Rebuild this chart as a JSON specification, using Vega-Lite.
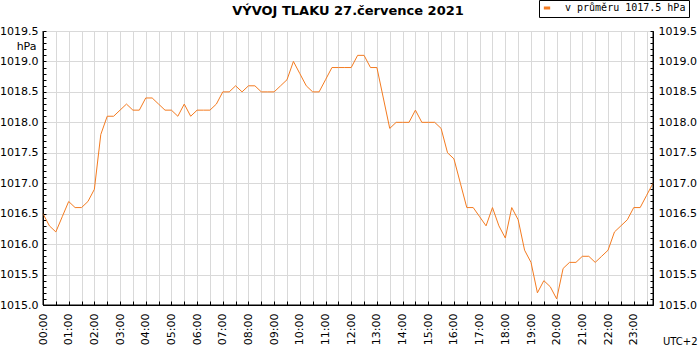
{
  "$schema": "https://vega.github.io/schema/vega-lite/v6.json",
  "width": 610,
  "height": 274,
  "autosize": "none",
  "padding": {"left": 43, "top": 31, "right": 47, "bottom": 45},
  "background": "white",
  "title": {
    "text": "VÝVOJ TLAKU  27.července 2021",
    "font": "DejaVu Sans",
    "fontSize": 13,
    "fontWeight": "bold",
    "color": "black",
    "anchor": "middle",
    "frame": "group",
    "baseline": "middle",
    "offset": -24
  },
  "config": {
    "view": {"stroke": null},
    "axis": {
      "domain": true,
      "ticks": true,
      "zindex": 1,
      "labelFont": "DejaVu Sans",
      "labelFontSize": 11,
      "labelColor": "black",
      "titleFont": "DejaVu Sans",
      "titleFontSize": 11,
      "titleFontWeight": "normal",
      "titleColor": "black",
      "domainColor": "black",
      "domainWidth": 1,
      "tickColor": "black",
      "tickWidth": 1,
      "gridColor": "#d9d9d9",
      "gridWidth": 1,
      "labelOverlap": false,
      "labelFlush": false
    },
    "legend": {
      "orient": "none",
      "legendX": 496,
      "legendY": -31,
      "strokeColor": "black",
      "fillColor": "white",
      "padding": 3,
      "symbolType": "stroke",
      "symbolStrokeWidth": 3,
      "symbolSize": 40,
      "labelFont": "DejaVu Sans Mono",
      "labelFontSize": 10,
      "labelColor": "black",
      "labelOffset": 13,
      "title": null
    }
  },
  "data": {
    "values": [
      {"time": "00:00", "p": 1016.5}, {"time": "00:15", "p": 1016.3}, {"time": "00:30", "p": 1016.2}, {"time": "00:45", "p": 1016.45},
      {"time": "01:00", "p": 1016.7}, {"time": "01:15", "p": 1016.6}, {"time": "01:30", "p": 1016.6}, {"time": "01:45", "p": 1016.7},
      {"time": "02:00", "p": 1016.9}, {"time": "02:15", "p": 1017.8}, {"time": "02:30", "p": 1018.1}, {"time": "02:45", "p": 1018.1},
      {"time": "03:00", "p": 1018.2}, {"time": "03:15", "p": 1018.3}, {"time": "03:30", "p": 1018.2}, {"time": "03:45", "p": 1018.2},
      {"time": "04:00", "p": 1018.4}, {"time": "04:15", "p": 1018.4}, {"time": "04:30", "p": 1018.3}, {"time": "04:45", "p": 1018.2},
      {"time": "05:00", "p": 1018.2}, {"time": "05:15", "p": 1018.1}, {"time": "05:30", "p": 1018.3}, {"time": "05:45", "p": 1018.1},
      {"time": "06:00", "p": 1018.2}, {"time": "06:15", "p": 1018.2}, {"time": "06:30", "p": 1018.2}, {"time": "06:45", "p": 1018.3},
      {"time": "07:00", "p": 1018.5}, {"time": "07:15", "p": 1018.5}, {"time": "07:30", "p": 1018.6}, {"time": "07:45", "p": 1018.5},
      {"time": "08:00", "p": 1018.6}, {"time": "08:15", "p": 1018.6}, {"time": "08:30", "p": 1018.5}, {"time": "08:45", "p": 1018.5},
      {"time": "09:00", "p": 1018.5}, {"time": "09:15", "p": 1018.6}, {"time": "09:30", "p": 1018.7}, {"time": "09:45", "p": 1019.0},
      {"time": "10:00", "p": 1018.8}, {"time": "10:15", "p": 1018.6}, {"time": "10:30", "p": 1018.5}, {"time": "10:45", "p": 1018.5},
      {"time": "11:00", "p": 1018.7}, {"time": "11:15", "p": 1018.9}, {"time": "11:30", "p": 1018.9}, {"time": "11:45", "p": 1018.9},
      {"time": "12:00", "p": 1018.9}, {"time": "12:15", "p": 1019.1}, {"time": "12:30", "p": 1019.1}, {"time": "12:45", "p": 1018.9},
      {"time": "13:00", "p": 1018.9}, {"time": "13:15", "p": 1018.4}, {"time": "13:30", "p": 1017.9}, {"time": "13:45", "p": 1018.0},
      {"time": "14:00", "p": 1018.0}, {"time": "14:15", "p": 1018.0}, {"time": "14:30", "p": 1018.2}, {"time": "14:45", "p": 1018.0},
      {"time": "15:00", "p": 1018.0}, {"time": "15:15", "p": 1018.0}, {"time": "15:30", "p": 1017.9}, {"time": "15:45", "p": 1017.5},
      {"time": "16:00", "p": 1017.4}, {"time": "16:15", "p": 1017.0}, {"time": "16:30", "p": 1016.6}, {"time": "16:45", "p": 1016.6},
      {"time": "17:00", "p": 1016.45}, {"time": "17:15", "p": 1016.3}, {"time": "17:30", "p": 1016.6}, {"time": "17:45", "p": 1016.3},
      {"time": "18:00", "p": 1016.1}, {"time": "18:15", "p": 1016.6}, {"time": "18:30", "p": 1016.4}, {"time": "18:45", "p": 1015.9},
      {"time": "19:00", "p": 1015.7}, {"time": "19:15", "p": 1015.2}, {"time": "19:30", "p": 1015.4}, {"time": "19:45", "p": 1015.3},
      {"time": "20:00", "p": 1015.1}, {"time": "20:15", "p": 1015.6}, {"time": "20:30", "p": 1015.7}, {"time": "20:45", "p": 1015.7},
      {"time": "21:00", "p": 1015.8}, {"time": "21:15", "p": 1015.8}, {"time": "21:30", "p": 1015.7}, {"time": "21:45", "p": 1015.8},
      {"time": "22:00", "p": 1015.9}, {"time": "22:15", "p": 1016.2}, {"time": "22:30", "p": 1016.3}, {"time": "22:45", "p": 1016.4},
      {"time": "23:00", "p": 1016.6}, {"time": "23:15", "p": 1016.6}, {"time": "23:30", "p": 1016.8}, {"time": "23:45", "p": 1017.0}
    ],
    "format": {"parse": {"time": "date:'%H:%M'"}}
  },
  "layer": [
    {
      "mark": {"type": "line", "strokeWidth": 1},
      "encoding": {
        "x": {
          "field": "time",
          "type": "temporal",
          "scale": {"nice": false},
          "axis": {
            "domain": true,
            "ticks": true,
            "domainColor": "black",
            "tickColor": "black",
            "tickCount": 48,
            "format": "%H:%M",
            "labelExpr": "minutes(datum.value) == 0 ? datum.label : ''",
            "labelAngle": 270,
            "labelAlign": "right",
            "labelBaseline": "middle",
            "labelPadding": 12,
            "tickSize": -4,
            "grid": true,
            "title": "UTC+2",
            "titleX": 654,
            "titleY": 36,
            "titleAlign": "right",
            "titleBaseline": "middle",
            "titleAngle": 0,
            "titleFontSize": 10
          }
        },
        "y": {
          "field": "p",
          "type": "quantitative",
          "scale": {"domain": [1015, 1019.5], "nice": false, "zero": false},
          "axis": {
            "orient": "left",
            "domain": true,
            "ticks": true,
            "domainColor": "black",
            "tickColor": "black",
            "values": [1015, 1015.1, 1015.2, 1015.3, 1015.4, 1015.5, 1015.6, 1015.7, 1015.8, 1015.9, 1016, 1016.1, 1016.2, 1016.3, 1016.4, 1016.5, 1016.6, 1016.7, 1016.8, 1016.9, 1017, 1017.1, 1017.2, 1017.3, 1017.4, 1017.5, 1017.6, 1017.7, 1017.8, 1017.9, 1018, 1018.1, 1018.2, 1018.3, 1018.4, 1018.5, 1018.6, 1018.7, 1018.8, 1018.9, 1019, 1019.1, 1019.2, 1019.3, 1019.4, 1019.5],
            "labelExpr": "abs(datum.value*2 - round(datum.value*2)) < 0.01 ? format(datum.value, '.1f') : ''",
            "gridOpacity": {"condition": {"test": "abs(datum.value*2 - round(datum.value*2)) < 0.01", "value": 1}, "value": 0},
            "tickSize": -3,
            "labelPadding": 8,
            "labelBaseline": "middle",
            "grid": true,
            "title": "hPa",
            "titleAngle": 0,
            "titleAlign": "right",
            "titleBaseline": "middle",
            "titleX": -7,
            "titleY": 15
          }
        },
        "color": {
          "datum": "v průměru 1017.5 hPa",
          "type": "nominal",
          "scale": {"range": ["#f47b20"]}
        }
      }
    },
    {
      "mark": {"type": "line", "strokeOpacity": 0},
      "encoding": {
        "x": {"field": "time", "type": "temporal"},
        "y": {
          "field": "p",
          "type": "quantitative",
          "axis": {
            "orient": "right",
            "domain": true,
            "ticks": true,
            "domainColor": "black",
            "tickColor": "black",
            "values": [1015, 1015.1, 1015.2, 1015.3, 1015.4, 1015.5, 1015.6, 1015.7, 1015.8, 1015.9, 1016, 1016.1, 1016.2, 1016.3, 1016.4, 1016.5, 1016.6, 1016.7, 1016.8, 1016.9, 1017, 1017.1, 1017.2, 1017.3, 1017.4, 1017.5, 1017.6, 1017.7, 1017.8, 1017.9, 1018, 1018.1, 1018.2, 1018.3, 1018.4, 1018.5, 1018.6, 1018.7, 1018.8, 1018.9, 1019, 1019.1, 1019.2, 1019.3, 1019.4, 1019.5],
            "labelExpr": "abs(datum.value*2 - round(datum.value*2)) < 0.01 ? format(datum.value, '.1f') : ''",
            "tickSize": -3,
            "labelPadding": 8,
            "labelBaseline": "middle",
            "grid": false,
            "title": null
          }
        }
      }
    },
    {
      "transform": [{"aggregate": [{"op": "min", "field": "time", "as": "t0"}, {"op": "max", "field": "time", "as": "t1"}]}],
      "mark": {"type": "rule", "color": "black", "strokeWidth": 1},
      "encoding": {
        "x": {"field": "t0", "type": "temporal"}
      }
    },
    {
      "transform": [{"aggregate": [{"op": "max", "field": "time", "as": "t1"}]}],
      "mark": {"type": "rule", "color": "black", "strokeWidth": 1},
      "encoding": {
        "x": {"field": "t1", "type": "temporal"}
      }
    },
    {
      "transform": [{"aggregate": [{"op": "min", "field": "p", "as": "pmin"}]}],
      "mark": {"type": "rule", "color": "black", "strokeWidth": 1},
      "encoding": {
        "y": {"datum": 1015, "type": "quantitative", "axis": null}
      }
    }
  ],
  "resolve": {"axis": {"y": "independent"}}
}
